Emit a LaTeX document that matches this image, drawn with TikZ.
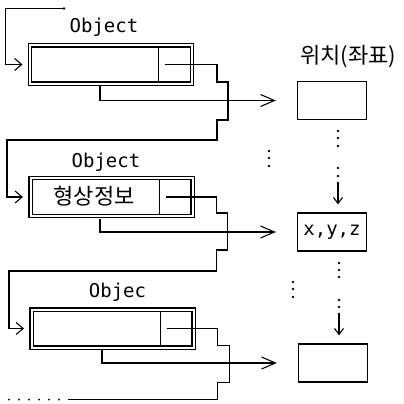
\documentclass[tikz,border=0pt]{standalone}
\usepackage{fontspec}
\setmonofont{DejaVu Sans Mono}
\newfontfamily\kofont{Noto Sans CJK KR}
\usetikzlibrary{arrows.meta}

\begin{document}
\begin{tikzpicture}[
    x=1pt, y=-1pt,
    % Stili comuni per oggetti, puntatori e caselle di posizione.
    link/.style={draw, line width=1.1pt},
    entry/.style={link, -{Straight Barb[length=7pt,width=12pt]}, shorten >=7pt},
    datalink/.style={link, -{Straight Barb[length=14pt,width=12pt]}, shorten >=21pt},
    down/.style={link, -{Straight Barb[length=6pt,width=9pt]}, shorten >=8pt},
    object/.style={draw, double, line width=1.1pt, double distance=2pt,
                   minimum width=162pt, minimum height=38pt, inner sep=0pt},
    slot/.style={draw, line width=1pt, anchor=east, minimum width=32pt,
                 minimum height=35pt, inner sep=0pt},
    position/.style={draw, line width=1.2pt, minimum width=69pt, minimum height=38pt,
                     inner sep=0pt, font=\ttfamily\fontsize{19}{19}\selectfont},
    objname/.style={font=\ttfamily\fontsize{19}{19}\selectfont, inner sep=0pt},
    hangul/.style={font=\kofont\fontsize{22}{22}\selectfont, inner sep=0pt}
]
\useasboundingbox (0,0) rectangle (404,404);

% Oggetti della lista, posizionati a mano.
\node[object] (obj1) at (111,64.5) {};
\node[object] (obj2) at (111.5,197) {};
\node[object] (obj3) at (112.5,328.5) {};

\node[slot] (ptr1) at ([xshift=-1.55pt]obj1.east) {};
\node[slot] (ptr2) at ([xshift=-1.55pt]obj2.east) {};
\node[slot] (ptr3) at ([xshift=-1.55pt]obj3.east) {};

\node[objname] (lbl1) at (104,27) {Object};
\node[objname] (lbl2) at (106,162) {Object};
\node[objname] (lbl3) at (117.5,292) {Objec};
\node[hangul] (shape2) at (94,196) {형상정보};

% Caselle delle posizioni.
\node[hangul] (title) at (348,57) {위치(좌표)};
\node[position] (pos1) at (332,100.5) {};
\node[position] (pos2) at (332,232) {x,y,z};
\node[position] (pos3) at (333,363) {};

% Puntatore di testa e collegamenti fra gli oggetti.
\coordinate (head) at (64,8.5);
\fill (head) circle (1.3pt);
\draw[entry] (head) -| ([xshift=-24pt]obj1.west) -- (obj1.west);

\draw[entry] ([xshift=7pt]ptr1.west) -- ++(52,0) -- ++(0,17.5) -- ++(11,0)
    -- ++(0,38) -- ++(-11,0) -- ++(0,20) -| ([xshift=-23pt]obj2.west) -- (obj2.west);
\draw[entry] ([xshift=7pt]ptr2.west) -- ++(51,0) -- ++(0,16) -- ++(11,0)
    -- ++(0,37) -- ++(-11,0) -- ++(0,21) -| ([xshift=-22pt]obj3.west) -- (obj3.west);

\coordinate (tail) at (68,399.5);
\draw[link] ([xshift=7pt]ptr3.west) -- ++(51,0) -- ++(0,17) -- ++(12,0)
    -- ++(0,37) -- ++(-12,0) |- (tail);
\foreach \x in {9,19,...,59} \fill (\x,399.5) circle (1pt);

% Riferimenti alle posizioni.
\draw[datalink] ([xshift=-11pt,yshift=-2pt]obj1.south) |- (pos1.west);
\draw[datalink] ([xshift=-11.5pt,yshift=-2pt]obj2.south) |- (pos2.west);
\draw[datalink] ([xshift=-10.5pt,yshift=-2pt]obj3.south) |- (pos3.west);

% Puntini di continuazione.
\foreach \y in {131,138,146,168,176,183} \fill (338,\y) circle (1.4pt);
\foreach \y in {263,270,277,300,307,314} \fill (339,\y) circle (1.4pt);
\foreach \y in {151,158,166} \fill (269,\y) circle (1.4pt);
\foreach \y in {282,289,297} \fill (293,\y) circle (1.4pt);

\coordinate (col1) at (338,183);
\coordinate (col2) at (339,314);
\draw[down] (col1) -- (col1 |- pos2.north);
\draw[down] (col2) -- (col2 |- pos3.north);
\end{tikzpicture}
\end{document}
